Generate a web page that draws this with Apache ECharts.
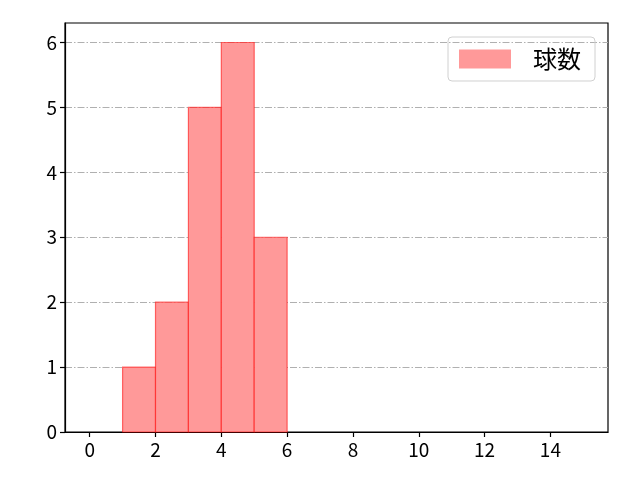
<!DOCTYPE html>
<html><head><meta charset="utf-8">
<script src="https://cdn.jsdelivr.net/npm/echarts@6/dist/echarts.min.js"></script>
<style>html,body{margin:0;padding:0;background:#fff}#c{width:640px;height:480px}</style>
</head><body><div id="c"></div>
<script>
const binStarts = [1, 2, 3, 4, 5];
const binEnds = [2, 3, 4, 5, 6];
const counts = [1, 2, 5, 6, 3];
const xTicks = [0, 2, 4, 6, 8, 10, 12, 14];
const yTicks = [0, 1, 2, 3, 4, 5, 6];
const seriesName = '球数';

const data = binStarts.map((s, i) => [s, binEnds[i], counts[i]]);
const font = '"Noto Sans CJK JP", "DejaVu Sans", sans-serif';
const chart = echarts.init(document.getElementById('c'));
const gridLine = {show: true, lineStyle: {color: '#b0b0b0', width: 1, type: [7, 2, 1.5, 2]}};
chart.setOption({
  animation: false,
  grid: {left: 65, right: 32, top: 23, bottom: 48, show: true, borderColor: '#000', borderWidth: 1.2, backgroundColor: 'transparent'},
  legend: {
    show: true, right: 45, top: 37, orient: 'vertical',
    padding: [10, 14, 10, 11], itemGap: 0,
    itemWidth: 52, itemHeight: 19, itemStyle: {borderWidth: 0},
    borderColor: '#d0d0d0', borderWidth: 1, borderRadius: 4,
    textStyle: {fontFamily: font, fontSize: 24, color: '#000', padding: [0, 0, 0, 17]},
    data: [{name: seriesName, icon: 'rect'}]
  },
  xAxis: {
    type: 'value', min: -0.75, max: 15.75,
    axisLine: {show: true, onZero: false, lineStyle: {color: '#000', width: 1.2}},
    axisTick: {show: true, length: 5, inside: false, customValues: xTicks, lineStyle: {color: '#000', width: 1.2}},
    axisLabel: {customValues: xTicks, fontFamily: font, fontSize: 19, color: '#000', margin: 8},
    splitLine: {show: false}
  },
  yAxis: {
    type: 'value', min: 0, max: 6.3,
    axisLine: {show: true, onZero: false, lineStyle: {color: '#000', width: 1.2}},
    axisTick: {show: true, length: 5, inside: false, customValues: yTicks, lineStyle: {color: '#000', width: 1.2}},
    axisLabel: {customValues: yTicks, fontFamily: font, fontSize: 19, color: '#000', margin: 8},
    splitLine: gridLine
  },
  series: [{
    name: seriesName, type: 'custom',
    itemStyle: {color: '#ff9999'},
    renderItem: function (params, api) {
      const p0 = api.coord([api.value(0), 0]);
      const p1 = api.coord([api.value(1), api.value(2)]);
      return {
        type: 'rect',
        shape: {x: p0[0], y: p1[1], width: p1[0] - p0[0], height: p0[1] - p1[1]},
        style: {fill: '#ff9999', stroke: 'rgba(255,0,0,0.55)', lineWidth: 1.2}
      };
    },
    encode: {x: [0, 1], y: 2},
    data: data,
    z: 3
  }]
});
</script></body></html>
